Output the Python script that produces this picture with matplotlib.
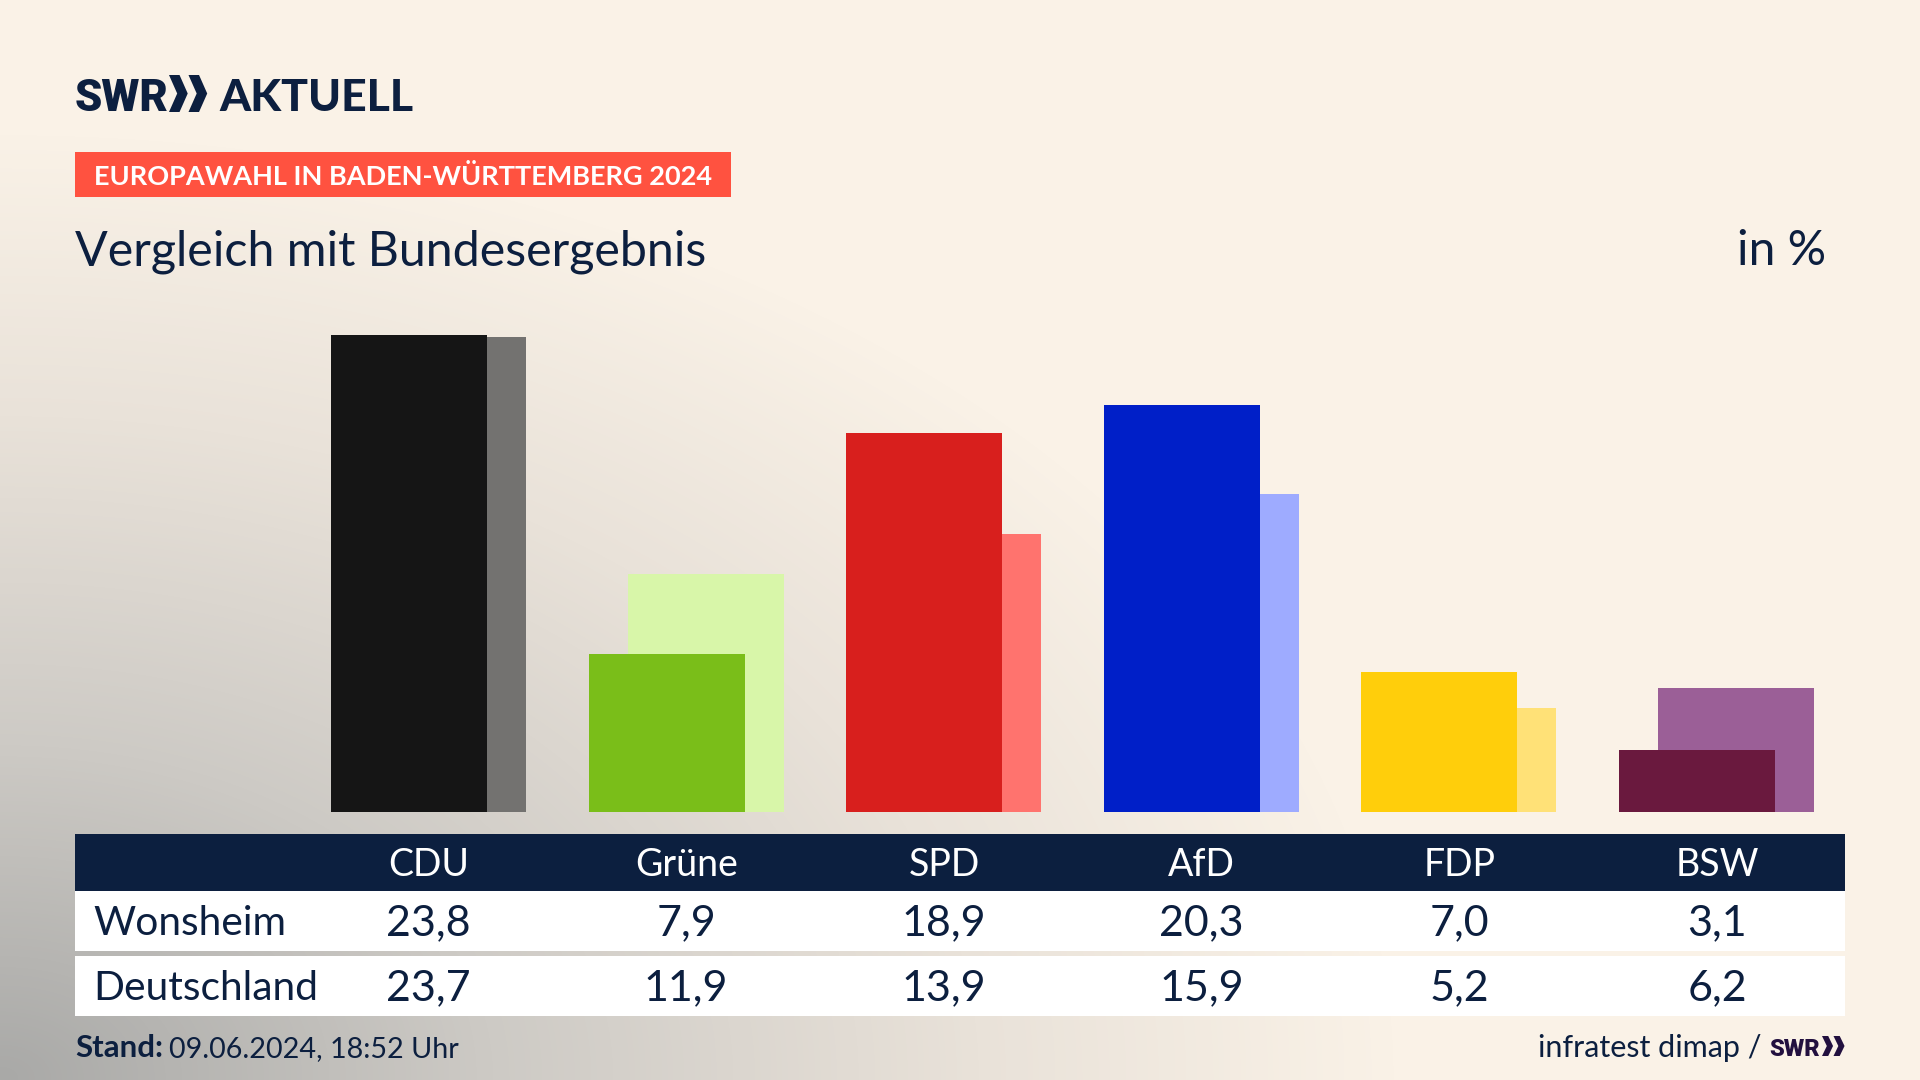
import numpy as np
import matplotlib
matplotlib.use("Agg")
import matplotlib.pyplot as plt
from matplotlib.colors import LinearSegmentedColormap
from matplotlib.patches import Polygon, Rectangle

parties = ["CDU", "Grüne", "SPD", "AfD", "FDP", "BSW"]
wonsheim = [23.8, 7.9, 18.9, 20.3, 7.0, 3.1]
deutschland = [23.7, 11.9, 13.9, 15.9, 5.2, 6.2]
colors_local = ["#151515", "#7ABE19", "#D81F1D", "#001FC8", "#FFCE0B", "#6A193E"]
colors_national = ["#737270", "#D8F6A9", "#FF736E", "#9EABFF", "#FFE177", "#9B5F97"]

NAVY = "#0C1F3F"
FONT = "Lato"
plt.rcParams["font.family"] = [FONT, "DejaVu Sans"]


def chevrons(ax, x, top, bottom, width, color):
    # logo arrows, two chevrons side by side with a thin gap
    mid = (top + bottom) / 2
    arm = width * 0.27
    for left in (x, x + width * 0.5):
        ax.add_patch(Polygon(
            [(left, top), (left + arm, top), (left + width * 0.48, mid),
             (left + arm, bottom), (left, bottom), (left + width * 0.21, mid)],
            closed=True, facecolor=color, edgecolor="none", zorder=5))


def main() -> None:
    fig = plt.figure(figsize=(19.2, 10.8), dpi=100)

    # pixel canvas for background, logo and table
    ax = fig.add_axes([0, 0, 1, 1])
    ax.set_xlim(0, 1920)
    ax.set_ylim(1080, 0)
    ax.axis("off")

    yy, xx = np.mgrid[0:1080:270j, 0:1920:480j]
    t = np.sqrt((xx / 1400) ** 2 + ((1080 - yy) / 950) ** 2)
    bg = LinearSegmentedColormap.from_list(
        "bg", [(0, "#A9A9A7"), (0.35, "#CDCAC5"), (0.7, "#E9E2D9"), (1, "#FAF2E7")])
    ax.imshow(np.clip(t, 0, 1), cmap=bg, vmin=0, vmax=1, extent=(0, 1920, 1080, 0),
              aspect="auto", interpolation="bilinear", zorder=0)

    # logo
    ax.text(75, 111, "SWR", fontsize=31.5, fontweight="black", family=["Roboto", "DejaVu Sans"],
            color=NAVY, va="baseline", zorder=5)
    chevrons(ax, 169, 75, 112, 39, NAVY)
    ax.text(219, 111, "AKTUELL", fontsize=32, fontweight="black", color=NAVY, va="baseline", zorder=5)

    # banner and headings
    ax.add_patch(Rectangle((75, 152), 656, 45, facecolor="#FF5240", edgecolor="none", zorder=2))
    ax.text(94, 185, "EUROPAWAHL IN BADEN-WÜRTTEMBERG 2024", fontsize=19.5, fontweight="bold",
            color="white", va="baseline", zorder=3)
    ax.text(75, 265, "Vergleich mit Bundesergebnis", fontsize=34.8, color=NAVY, va="baseline", zorder=3)
    ax.text(1826, 265, "in %", fontsize=34.6, color=NAVY, ha="right", va="baseline", zorder=3)

    # bars share the canvas size, x is the party index, y the percentage
    step = 257.6
    first = 428.5
    base = 812
    scale = 20.03
    bars = fig.add_axes([0, (1080 - base) / 1080, 1, 500 / 1080])
    bars.set_xlim(-first / step, (1920 - first) / step)
    bars.set_ylim(0, 500 / scale)
    bars.axis("off")
    x = np.arange(len(parties))
    bar_w = 156 / step
    offset = 19.5 / step
    bars.bar(x + offset, deutschland, width=bar_w, color=colors_national, zorder=1)
    bars.bar(x - offset, wonsheim, width=bar_w, color=colors_local, zorder=2)

    # table under the bars
    ax.add_patch(Rectangle((75, 834), 1770, 57, facecolor=NAVY, edgecolor="none", zorder=2))
    ax.add_patch(Rectangle((75, 891), 1770, 60, facecolor="white", edgecolor="none", zorder=2))
    ax.add_patch(Rectangle((75, 956), 1770, 60, facecolor="white", edgecolor="none", zorder=2))
    ax.text(93, 935, "Wonsheim", fontsize=29.3, color=NAVY, va="baseline", zorder=3)
    ax.text(93, 1000, "Deutschland", fontsize=29.3, color=NAVY, va="baseline", zorder=3)
    for i, party in enumerate(parties):
        cx = 428.5 + 257.7 * i
        ax.text(cx, 876, party, fontsize=27, color="white", ha="center", va="baseline", zorder=3)
        ax.text(cx, 935, f"{wonsheim[i]:.1f}".replace(".", ","), fontsize=31, color=NAVY,
                ha="center", va="baseline", zorder=3)
        ax.text(cx, 1000, f"{deutschland[i]:.1f}".replace(".", ","), fontsize=31, color=NAVY,
                ha="center", va="baseline", zorder=3)

    # footer
    ax.text(75, 1057, "Stand:", fontsize=22.5, fontweight="bold", color=NAVY, va="baseline", zorder=3)
    ax.text(169, 1057, "09.06.2024, 18:52 Uhr", fontsize=20.7, color=NAVY, va="baseline", zorder=3)
    ax.text(1762, 1057, "infratest dimap /", fontsize=22, color=NAVY, ha="right", va="baseline", zorder=3)
    ax.text(1769, 1056, "SWR", fontsize=17, fontweight="black", family=["Roboto", "DejaVu Sans"],
            color="#22103F", va="baseline", zorder=3)
    chevrons(ax, 1822, 1036, 1056, 23, "#22103F")

    fig.savefig("out.png", dpi=100)


if __name__ == "__main__":
    main()
